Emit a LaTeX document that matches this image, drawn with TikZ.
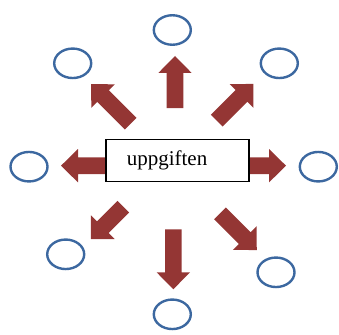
\documentclass[tikz,border=0pt]{standalone}
\usepackage{fontspec}
\setmainfont{Liberation Serif}
\usetikzlibrary{shapes.geometric}
\definecolor{arrred}{HTML}{943634}
\definecolor{ellblue}{HTML}{3C68A0}
\newcommand\blockarr[3]{%
  \fill[arrred, shift={(#1)}, rotate=#2]
    (0,-8.3) -- (#3-17,-8.3) -- (#3-17,-16.7) -- (#3,0) -- (#3-17,16.7) -- (#3-17,8.3) -- (0,8.3) -- cycle;}
\begin{document}
\begin{tikzpicture}[x=1pt,y=-1pt,
  ell/.style={ellipse, draw=ellblue, line width=2.4pt, minimum width=37pt, minimum height=29.5pt, inner sep=0pt},
  taskbox/.style={rectangle, draw=black, line width=1.2pt, fill=white, minimum width=143pt, minimum height=42.5pt, inner sep=0pt, font=\fontsize{21}{24}\selectfont}]
\useasboundingbox (0,0) rectangle (339,334);
% ellipses
\node[ell] (eT)  at (172.3,30) {};
\node[ell] (eUL) at (72.7,63.3) {};
\node[ell] (eUR) at (279.3,63.3) {};
\node[ell] (eL)  at (29,166.7) {};
\node[ell] (eR)  at (318.3,166.7) {};
\node[ell] (eLL) at (65.7,254.3) {};
\node[ell] (eLR) at (276,272.3) {};
\node[ell] (eB)  at (172.3,314.3) {};
% block arrows
\coordinate (aT) at (175,108);
\coordinate (aB) at (173.3,229.3);
\coordinate (aL) at (112,165.7);
\coordinate (aR) at (243,165.7);
\coordinate (aUL) at (130.7,123.7);
\coordinate (aUR) at (216.7,120.7);
\coordinate (aLL) at (123.3,206.7);
\coordinate (aLR) at (220,213.3);
\blockarr{aT}{90}{52}
\blockarr{aB}{270}{60}
\blockarr{aL}{180}{51}
\blockarr{aR}{0}{43}
\blockarr{aUL}{135}{56}
\blockarr{aUR}{45}{52}
\blockarr{aLL}{225}{46}
\blockarr{aLR}{315}{52}
% central box
\node[taskbox] (box) at (177.5,160.5) {\raisebox{-3pt}{uppgiften}\hspace*{21pt}};
\end{tikzpicture}
\end{document}
